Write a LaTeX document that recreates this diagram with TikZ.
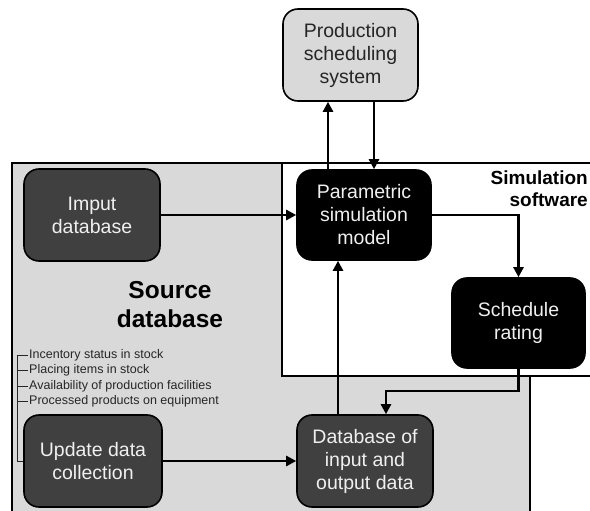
\documentclass[tikz,border=0pt]{standalone}
\usepackage{fontspec}
\setmainfont{Liberation Sans}
\usetikzlibrary{arrows.meta}
\definecolor{panelgray}{HTML}{D9D9D9}
\definecolor{darkbox}{HTML}{404040}
\tikzset{
  box/.style={draw=black, line width=1.6pt, rounded corners=15pt, align=center,
    font=\fontsize{19.5}{23}\selectfont, inner sep=2pt},
  darkstep/.style={box, fill=darkbox, text=white!94!black},
  blackstep/.style={box, fill=black, text=white!94!black},
  lightstep/.style={box, fill=panelgray, text=black!85},
  container/.style={draw=black, line width=1.5pt},
  flow/.style={line width=2.4pt, -{Triangle[length=10pt,width=10pt]}},
  bracket/.style={line width=0.9pt, draw=black!85},
  listitem/.style={anchor=west, inner sep=1pt, font=\fontsize{12.5}{14}\selectfont, text=black!85},
}
\begin{document}
\begin{tikzpicture}[x=1pt, y=-1pt]
\useasboundingbox (0,0) rectangle (590,511);
\clip (0,0) rectangle (590,511);

% containers
\draw[container, fill=panelgray] (12,163) rectangle (530,530);
\draw[container, fill=white] (282,163) rectangle (610,376);

\node[font=\bfseries\fontsize{24.5}{29}\selectfont, align=center] (srclabel) at (170,305) {Source\\database};
\node[font=\bfseries\fontsize{19}{22}\selectfont, align=right, anchor=east, inner sep=1pt] (simlabel) at (589,189) {Simulation\\software};

% process boxes
\node[lightstep, minimum width=135pt, minimum height=92pt] (prod) at (350.5,55) {Production\\scheduling\\system};
\node[blackstep, minimum width=134pt, minimum height=90pt] (param) at (364,215) {Parametric\\simulation\\model};
\node[blackstep, minimum width=133pt, minimum height=90pt] (sched) at (518.5,323) {Schedule\\rating};
\node[darkstep, minimum width=136pt, minimum height=92pt] (imput) at (92,215) {Imput\\database};
\node[darkstep, minimum width=138pt, minimum height=92pt] (update) at (93,461) {Update data\\collection};
\node[darkstep, minimum width=136pt, minimum height=92pt] (dbio) at (365,461) {Database of\\input and\\output data};

% collected data list
\node[listitem] (item1) at (28,355) {Incentory status in stock};
\node[listitem] (item2) at (28,370.5) {Placing items in stock};
\node[listitem] (item3) at (28,386) {Availability of production facilities};
\node[listitem] (item4) at (28,401) {Processed products on equipment};
\coordinate (brtop) at (17,355);
\draw[bracket] (item1.west) -- (brtop) |- (update.west);
\draw[bracket] (item2.west) -- (item2.west -| brtop);
\draw[bracket] (item3.west) -- (item3.west -| brtop);
\draw[bracket] (item4.west) -- (item4.west -| brtop);

% data flows
\draw[flow] ([xshift=-36pt]param.north) -- ([xshift=-36pt]param.north |- prod.south);
\draw[flow] ([xshift=10pt]param.north |- prod.south) -- ([xshift=10pt]param.north);
\draw[flow] (imput.east) -- (param.west);
\draw[flow] (param.east) -| (sched.north);
\draw[flow] (sched.south) -- ++(0,22) -| ([xshift=21pt]dbio.north);
\draw[flow] ([xshift=-27pt]dbio.north) -- ([xshift=-27pt]dbio.north |- param.south);
\draw[flow] (update.east) -- (dbio.west);
\end{tikzpicture}
\end{document}
